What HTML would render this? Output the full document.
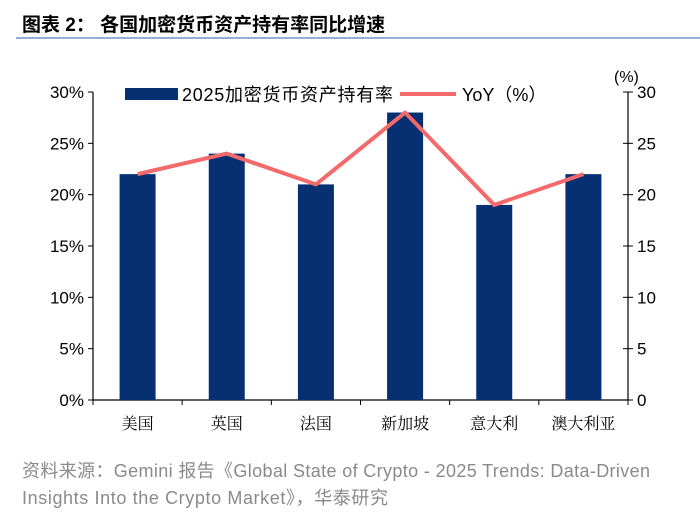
<!DOCTYPE html>
<html><head><meta charset="utf-8"><style>
body{margin:0;background:#fff;width:700px;height:525px;overflow:hidden;font-family:"Liberation Sans","Noto Sans CJK SC",sans-serif;}
</style></head><body>
<svg width="700" height="525" xmlns="http://www.w3.org/2000/svg">
<text x="22" y="31" font-size="19" font-weight="bold" fill="#000" font-family="Liberation Sans,Noto Sans CJK SC,sans-serif">图表 2：  各国加密货币资产持有率同比增速</text>
<line x1="16" y1="38" x2="700" y2="38" stroke="#6f95c8" stroke-width="1.5"/>
<g id="axes"></g>
<g id="marks"></g>
<g>
<rect x="125" y="88" width="53" height="12" fill="#063072"/>
<text x="182" y="101" font-size="18" fill="#000" textLength="211">2025加密货币资产持有率</text>
<line x1="400" y1="94" x2="456" y2="94" stroke="#f36a6c" stroke-width="4"/>
<text x="462" y="101" font-size="18" fill="#000">YoY（%）</text>
</g>
<text x="614" y="82" font-size="16" fill="#000">(%)</text>
<text x="22" y="477" font-size="18" fill="#8a8a8a" textLength="628">资料来源：Gemini 报告《Global State of Crypto - 2025 Trends: Data-Driven</text>
<text x="22" y="504" font-size="18" fill="#8a8a8a" textLength="366">Insights Into the Crypto Market》，华泰研究</text>
</svg>
<script>
const categories=["美国","英国","法国","新加坡","意大利","澳大利亚"];
const holdingRate=[22,24,21,28,19,22];
const yoy=[22,24,21,28,19,22];
const leftTicks=["0%","5%","10%","15%","20%","25%","30%"];
const rightTicks=["0","5","10","15","20","25","30"];
const NS="http://www.w3.org/2000/svg";
const X0=93,X1=628,Y0=400,Y1=92,MAX=30;
const y=v=>Y0-(v/MAX)*(Y0-Y1);
const band=(X1-X0)/categories.length;
const xc=i=>X0+band*(i+0.5);
function mk(tag,attrs,parent){const e=document.createElementNS(NS,tag);for(const k in attrs)e.setAttribute(k,attrs[k]);parent.appendChild(e);return e;}
const axes=document.getElementById('axes'),marks=document.getElementById('marks');
let e;
e=mk('line',{x1:X0,y1:Y1,x2:X0,y2:Y0,stroke:'#000','stroke-width':1.2},axes);


e=mk('line',{x1:X1,y1:Y1,x2:X1,y2:Y0,stroke:'#000','stroke-width':1.2},axes);


e=mk('line',{x1:X0,y1:Y0,x2:X1,y2:Y0,stroke:'#000','stroke-width':1.2},axes);


leftTicks.forEach((t,i)=>{const v=i*5;const yy=y(v);
 mk('line',{x1:X0-5,y1:yy,x2:X0,y2:yy,stroke:'#000'},axes);
 e=mk('text',{x:X0-9,y:yy+6,'font-size':17,'text-anchor':'end'},axes);e.textContent=t;
 
 
});
rightTicks.forEach((t,i)=>{const v=i*5;const yy=y(v);
 mk('line',{x1:X1-5,y1:yy,x2:X1+5,y2:yy,stroke:'#000'},axes);
 e=mk('text',{x:X1+9,y:yy+6,'font-size':17},axes);e.textContent=t;
 
 
});
for(let i=0;i<=categories.length;i++){mk('line',{x1:X0+band*i,y1:Y0,x2:X0+band*i,y2:Y0+5,stroke:'#000'},axes);}
categories.forEach((c,i)=>{
 e=mk('text',{x:xc(i),y:429,'font-size':16,'text-anchor':'middle','font-family':'Noto Serif CJK SC,serif'},axes);e.textContent=c;
 
 
 const b=mk('rect',{x:xc(i)-18,y:y(holdingRate[i]),width:36,height:Y0-y(holdingRate[i]),fill:'#063072'},marks);
 
 
});
const pl=mk('polyline',{points:yoy.map((v,i)=>xc(i)+','+y(v)).join(' '),fill:'none',stroke:'#f36a6c','stroke-width':4,'stroke-linejoin':'round'},marks);


</script>
</body></html>
